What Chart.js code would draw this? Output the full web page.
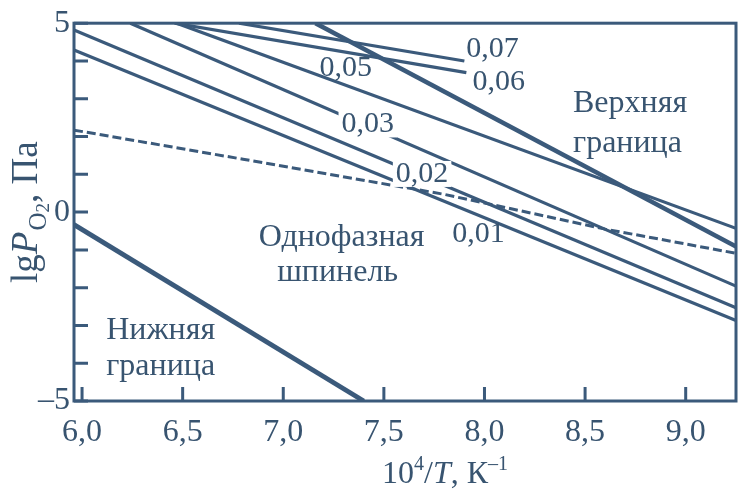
<!DOCTYPE html>
<html>
<head>
<meta charset="utf-8">
<script src="https://cdn.jsdelivr.net/npm/chart.js@4/dist/chart.umd.min.js"></script>
<style>
  body { margin: 0; background: #fff; }
  #mycanvas { display: block; }
</style>
</head>
<body>
<canvas id="mycanvas" width="743" height="504"></canvas>
<script>
// ** lgP(O2) vs 10^4/T diagram

// axis ticks
var xTicks = [6.0, 6.5, 7.0, 7.5, 8.0, 8.5, 9.0];
var yTicks = [-5, -4, -3, -2, -1, 0, 1, 2, 3, 4, 5];
var yLabeled = [-5, 0, 5];

// lines (x = 10^4/T, y = lgP)
var lowerX = [5.96, 7.40];      var lowerY = [-0.33, -5.0];
var upperX = [7.16, 9.25];      var upperY = [5.0, -0.91];
var dashX  = [5.96, 6.8, 7.8, 8.6, 9.25];
var dashY  = [2.17, 1.40, 0.47, -0.45, -1.09];
var c01X = [5.96, 9.25];        var c01Y = [4.29, -2.87];
var c02X = [5.96, 9.25];        var c02Y = [4.82, -2.53];
var c03X = [6.24, 9.25];        var c03Y = [5.0, -1.96];
var c05X = [6.47, 9.25];        var c05Y = [5.0, -0.43];
var c06X = [6.46, 7.91];        var c06Y = [5.0, 3.69];
var c07X = [6.78, 7.90];        var c07Y = [5.0, 4.00];

var ink = '#3b5a7b';
var textInk = '#385470';
var serif = '"Liberation Serif", "DejaVu Serif", serif';

function pts(xs, ys) {
	var out = [];
	for (var i in xs) out.push({x: xs[i], y: ys[i]});
	return out;
}

function line(xs, ys, w, dash) {
	return {
		data: pts(xs, ys),
		showLine: true,
		borderColor: ink,
		borderWidth: w,
		borderDash: dash || [],
		pointRadius: 0,
		tension: 0
	};
}

// text labels placed in data coordinates
var notes = [
	{t: '0,07', x: 7.91, y: 4.32, align: 'left'},
	{t: '0,06', x: 7.94, y: 3.45, align: 'left'},
	{t: '0,05', x: 7.31, y: 3.82, align: 'center'},
	{t: '0,03', x: 7.42, y: 2.32, align: 'center', box: true},
	{t: '0,02', x: 7.69, y: 1.01, align: 'center', box: true},
	{t: '0,01', x: 7.97, y: -0.59, align: 'center'},
	{t: 'Верхняя', x: 8.44, y: 2.87, align: 'left'},
	{t: 'граница', x: 8.44, y: 1.82, align: 'left'},
	{t: 'Однофазная', x: 7.29, y: -0.67, align: 'center'},
	{t: 'шпинель', x: 7.27, y: -1.61, align: 'center'},
	{t: 'Нижняя', x: 6.12, y: -3.14, align: 'left'},
	{t: 'граница', x: 6.12, y: -4.08, align: 'left'}
];

var decor = {
	id: 'decor',
	afterDatasetsDraw: function(chart) {
		var c = chart.ctx, a = chart.chartArea;
		var sx = chart.scales.x, sy = chart.scales.y;
		c.save();
		// frame
		c.strokeStyle = ink;
		c.lineWidth = 3;
		c.strokeRect(a.left, a.top, a.right - a.left, a.bottom - a.top);
		// inward ticks
		c.beginPath();
		for (var i in xTicks) {
			var px = sx.getPixelForValue(xTicks[i]);
			c.moveTo(px, a.bottom);
			c.lineTo(px, a.bottom - 14);
		}
		for (var j in yTicks) {
			var py = sy.getPixelForValue(yTicks[j]);
			c.moveTo(a.left, py);
			c.lineTo(a.left + 14, py);
		}
		c.stroke();
		// labels
		c.textBaseline = 'middle';
		for (var k in notes) {
			var n = notes[k];
			var fs = n.t.charAt(0) === '0' ? 30 : 32;
			c.font = fs + 'px ' + serif;
			c.textAlign = n.align;
			var x = sx.getPixelForValue(n.x), y = sy.getPixelForValue(n.y);
			if (n.box) {
				var w = c.measureText(n.t).width;
				var l = n.align === 'center' ? x - w / 2 : x;
				c.fillStyle = '#fff';
				c.fillRect(l - 3, y - 13, w + 6, 26);
			}
			c.fillStyle = textInk;
			c.fillText(n.t, x, y);
		}
		c.restore();
	},
	afterDraw: function(chart) {
		var c = chart.ctx;
		c.save();
		c.fillStyle = textInk;
		c.textBaseline = 'alphabetic';
		c.textAlign = 'left';
		// x title: 10^4/T, K^-1
		var x = 382, y = 483;
		var parts = [
			['10', '32px ' + serif, 0],
			['4', '20px ' + serif, -13],
			['/', '32px ' + serif, 0],
			['T', 'italic 32px ' + serif, 0],
			[', К', '32px ' + serif, 0],
			['–1', '20px ' + serif, -13]
		];
		for (var i in parts) {
			c.font = parts[i][1];
			c.fillText(parts[i][0], x, y + parts[i][2]);
			x += c.measureText(parts[i][0]).width;
		}
		// y title: lgP_O2, Па (rotated)
		c.translate(37, 283);
		c.rotate(-Math.PI / 2);
		var yp = [
			['lg', '37px ' + serif, 0],
			['P', 'italic 37px ' + serif, 0],
			['O', '25px ' + serif, 9],
			['2', '19px ' + serif, 12],
			[', Па', '37px ' + serif, 0]
		];
		var t = 0;
		for (var j in yp) {
			c.font = yp[j][1];
			c.fillText(yp[j][0], t, yp[j][2]);
			t += c.measureText(yp[j][0]).width + (j == 1 ? 1 : 0);
		}
		c.restore();
	}
};

var ctx = document.getElementById('mycanvas');

var chart = new Chart(ctx, {
	type: 'scatter',
	data: {
		datasets: [
			line(lowerX, lowerY, 4.8),
			line(upperX, upperY, 4.5),
			line(dashX, dashY, 3, [9, 4]),
			line(c01X, c01Y, 3.2),
			line(c02X, c02Y, 3.2),
			line(c03X, c03Y, 3.2),
			line(c05X, c05Y, 3.2),
			line(c06X, c06Y, 3.2),
			line(c07X, c07Y, 3.2)
		]
	},
	options: {
		responsive: false,
		animation: false,
		events: [],
		layout: {
			padding: {top: 20, right: 7, left: 0, bottom: 0}
		},
		plugins: {
			legend: {display: false},
			tooltip: {enabled: false}
		},
		scales: {
			x: {
				type: 'linear',
				min: 5.96,
				max: 9.25,
				grid: {display: false, drawTicks: false},
				border: {display: false},
				afterBuildTicks: function(scale) {
					scale.ticks = xTicks.map(function(v) { return {value: v}; });
				},
				afterFit: function(scale) { scale.height = 103; },
				ticks: {
					padding: 12,
					color: textInk,
					font: {family: serif, size: 32},
					maxRotation: 0,
					autoSkip: false,
					callback: function(v) { return v.toFixed(1).replace('.', ','); }
				}
			},
			y: {
				type: 'linear',
				min: -5,
				max: 5,
				grid: {display: false, drawTicks: false},
				border: {display: false},
				afterBuildTicks: function(scale) {
					scale.ticks = yTicks.map(function(v) { return {value: v}; });
				},
				afterFit: function(scale) { scale.width = 74; },
				ticks: {
					padding: 4,
					color: textInk,
					font: {family: serif, size: 32},
					autoSkip: false,
					callback: function(v) {
						if (yLabeled.indexOf(v) < 0) return '';
						return v < 0 ? '–' + Math.abs(v) : String(v);
					}
				}
			}
		}
	},
	plugins: [decor]
});
</script>
</body>
</html>
